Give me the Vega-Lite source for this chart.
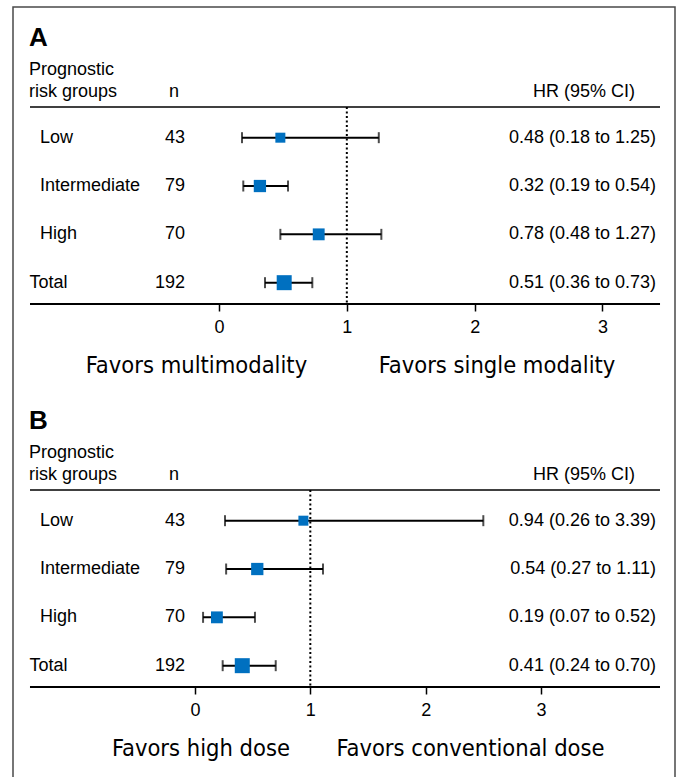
{
  "$schema": "https://vega.github.io/schema/vega-lite/v6.json",
  "padding": {"left": 12, "top": 6, "right": 0, "bottom": 0},
  "config": {"view": {"stroke": null}, "font": "Liberation Sans", "text": {"font": "Liberation Sans", "fontSize": 18, "color": "black"}},
  "datasets": {
    "A": [
      {"group": "Low", "n": 43, "hr": 0.48, "lo": 0.18, "hi": 1.25, "label": "0.48 (0.18 to 1.25)"},
      {"group": "Intermediate", "n": 79, "hr": 0.32, "lo": 0.19, "hi": 0.54, "label": "0.32 (0.19 to 0.54)"},
      {"group": "High", "n": 70, "hr": 0.78, "lo": 0.48, "hi": 1.27, "label": "0.78 (0.48 to 1.27)"},
      {"group": "Total", "n": 192, "hr": 0.51, "lo": 0.36, "hi": 0.73, "label": "0.51 (0.36 to 0.73)"}
    ],
    "B": [
      {"group": "Low", "n": 43, "hr": 0.94, "lo": 0.26, "hi": 2.5, "label": "0.94 (0.26 to 3.39)"},
      {"group": "Intermediate", "n": 79, "hr": 0.54, "lo": 0.27, "hi": 1.11, "label": "0.54 (0.27 to 1.11)"},
      {"group": "High", "n": 70, "hr": 0.19, "lo": 0.07, "hi": 0.52, "label": "0.19 (0.07 to 0.52)"},
      {"group": "Total", "n": 192, "hr": 0.41, "lo": 0.24, "hi": 0.70, "label": "0.41 (0.24 to 0.70)"}
    ]
  },
  "resolve": {"scale": {"x": "independent", "y": "independent", "size": "independent"}},
  "spacing": 0,
  "bounds": "flush",
  "vconcat": [
    {
      "width": 662, "height": 100,
      "view": {"stroke": "#4a4a4a", "strokeWidth": 1.5, "strokeDash": [762, 662, 100]},
      "data": {"values": [{}]},
      "layer": [
        {"mark": {"type": "rule", "strokeWidth": 1.5, "color": "black"},
         "encoding": {"x": {"datum": -1.4785, "type": "quantitative", "scale": {"domain": [-1.6115, 3.5672], "nice": false, "zero": false}, "axis": null}, "x2": {"datum": 3.45}, "y": {"value": "height"}}},
        {"mark": {"type": "text", "text": "A", "align": "left", "baseline": "alphabetic", "dy": -61, "fontSize": 26, "fontWeight": "bold"},
         "encoding": {"x": {"datum": -1.486, "type": "quantitative"}, "y": {"value": "height"}}},
        {"mark": {"type": "text", "text": ["Prognostic", "risk groups"], "align": "left", "baseline": "bottom", "dy": -28, "lineHeight": 22},
         "encoding": {"x": {"datum": -1.486, "type": "quantitative"}, "y": {"value": "height"}}},
        {"mark": {"type": "text", "text": "n", "align": "center", "baseline": "bottom", "dy": -6},
         "encoding": {"x": {"datum": -0.352, "type": "quantitative"}, "y": {"value": "height"}}},
        {"mark": {"type": "text", "text": "HR (95% CI)", "align": "right", "baseline": "bottom", "dy": -6},
         "encoding": {"x": {"datum": 3.254, "type": "quantitative"}, "y": {"value": "height"}}}
      ]
    },
    {
      "width": 662, "height": 197,
      "view": {"stroke": "#4a4a4a", "strokeWidth": 1.5, "strokeDash": [0, 662, 197, 662, 197]},
      "data": {"name": "A"},
      "layer": [
        {"data": {"values": [{}]},
         "mark": {"type": "rule", "strokeDash": [2, 2.5], "strokeWidth": 2, "color": "black"},
         "encoding": {"x": {"datum": 1, "type": "quantitative", "scale": {"domain": [-1.6115, 3.5672], "nice": false, "zero": false}, "axis": {"values": [0, 1, 2, 3], "domain": false, "grid": false, "ticks": true, "tickSize": 7, "tickWidth": 1.5, "tickColor": "black", "labelFont": "Liberation Sans", "labelFontSize": 18, "labelColor": "black", "labelPadding": 7, "labelFlush": false, "title": null, "format": "d"}}}},
        {"data": {"values": [{}]},
         "mark": {"type": "rule", "strokeWidth": 2, "color": "black"},
         "encoding": {"x": {"datum": -1.4785, "type": "quantitative"}, "x2": {"datum": 3.45}, "y": {"value": "height"}}},
        {"mark": {"type": "rule", "strokeWidth": 2, "color": "black"},
         "encoding": {"x": {"field": "lo", "type": "quantitative"}, "x2": {"field": "hi"},
           "y": {"field": "group", "type": "nominal", "sort": ["Low", "Intermediate", "High", "Total"], "scale": {"type": "point", "padding": 0.538, "align": 0.59}, "axis": null}}},
        {"mark": {"type": "tick", "thickness": 2, "size": 11, "color": "black"},
         "encoding": {"x": {"field": "lo", "type": "quantitative"}, "y": {"field": "group", "type": "nominal", "sort": ["Low", "Intermediate", "High", "Total"]}}},
        {"mark": {"type": "tick", "thickness": 2, "size": 11, "color": "black"},
         "encoding": {"x": {"field": "hi", "type": "quantitative"}, "y": {"field": "group", "type": "nominal", "sort": ["Low", "Intermediate", "High", "Total"]}}},
        {"mark": {"type": "square", "color": "#0070C0", "opacity": 1, "filled": true},
         "encoding": {"x": {"field": "hr", "type": "quantitative"}, "y": {"field": "group", "type": "nominal", "sort": ["Low", "Intermediate", "High", "Total"]},
           "size": {"field": "n", "type": "quantitative", "scale": {"type": "log", "domain": [43, 192], "range": [100, 225]}, "legend": null}}},
        {"transform": [{"filter": "datum.group != 'Total'"}],
         "mark": {"type": "text", "align": "left", "baseline": "middle"},
         "encoding": {"x": {"datum": -1.4, "type": "quantitative"}, "y": {"field": "group", "type": "nominal", "sort": ["Low", "Intermediate", "High", "Total"]}, "text": {"field": "group"}}},
        {"transform": [{"filter": "datum.group == 'Total'"}],
         "mark": {"type": "text", "align": "left", "baseline": "middle"},
         "encoding": {"x": {"datum": -1.482, "type": "quantitative"}, "y": {"field": "group", "type": "nominal", "sort": ["Low", "Intermediate", "High", "Total"]}, "text": {"field": "group"}}},
        {"mark": {"type": "text", "align": "right", "baseline": "middle"},
         "encoding": {"x": {"datum": -0.266, "type": "quantitative"}, "y": {"field": "group", "type": "nominal", "sort": ["Low", "Intermediate", "High", "Total"]}, "text": {"field": "n"}}},
        {"mark": {"type": "text", "align": "right", "baseline": "middle"},
         "encoding": {"x": {"datum": 3.419, "type": "quantitative"}, "y": {"field": "group", "type": "nominal", "sort": ["Low", "Intermediate", "High", "Total"]}, "text": {"field": "label"}}}
      ]
    },
    {
      "width": 662, "height": 86,
      "view": {"stroke": "#4a4a4a", "strokeWidth": 1.5, "strokeDash": [0, 662, 86, 662, 86]},
      "data": {"values": [{}]},
      "layer": [
        {"mark": {"type": "text", "text": "Favors multimodality", "align": "center", "baseline": "alphabetic", "dy": -17, "font": "DejaVu Sans Condensed, Liberation Sans", "fontSize": 23.5},
         "encoding": {"x": {"datum": -0.176, "type": "quantitative", "scale": {"domain": [-1.6115, 3.5672], "nice": false, "zero": false}, "axis": null}, "y": {"value": "height"}}},
        {"mark": {"type": "text", "text": "Favors single modality", "align": "center", "baseline": "alphabetic", "dy": -17, "font": "DejaVu Sans Condensed, Liberation Sans", "fontSize": 23.5},
         "encoding": {"x": {"datum": 2.175, "type": "quantitative"}, "y": {"value": "height"}}}
      ]
    },
    {
      "width": 662, "height": 100,
      "view": {"stroke": "#4a4a4a", "strokeWidth": 1.5, "strokeDash": [0, 662, 100, 662, 100]},
      "data": {"values": [{}]},
      "layer": [
        {"mark": {"type": "rule", "strokeWidth": 1.5, "color": "black"},
         "encoding": {"x": {"datum": -1.4307, "type": "quantitative", "scale": {"domain": [-1.578, 4.162], "nice": false, "zero": false}, "axis": null}, "x2": {"datum": 4.032}, "y": {"value": "height"}}},
        {"mark": {"type": "text", "text": "B", "align": "left", "baseline": "alphabetic", "dy": -61, "fontSize": 26, "fontWeight": "bold"},
         "encoding": {"x": {"datum": -1.439, "type": "quantitative"}, "y": {"value": "height"}}},
        {"mark": {"type": "text", "text": ["Prognostic", "risk groups"], "align": "left", "baseline": "bottom", "dy": -28, "lineHeight": 22},
         "encoding": {"x": {"datum": -1.439, "type": "quantitative"}, "y": {"value": "height"}}},
        {"mark": {"type": "text", "text": "n", "align": "center", "baseline": "bottom", "dy": -6},
         "encoding": {"x": {"datum": -0.182, "type": "quantitative"}, "y": {"value": "height"}}},
        {"mark": {"type": "text", "text": "HR (95% CI)", "align": "right", "baseline": "bottom", "dy": -6},
         "encoding": {"x": {"datum": 3.815, "type": "quantitative"}, "y": {"value": "height"}}}
      ]
    },
    {
      "width": 662, "height": 197,
      "view": {"stroke": "#4a4a4a", "strokeWidth": 1.5, "strokeDash": [0, 662, 197, 662, 197]},
      "data": {"name": "B"},
      "layer": [
        {"data": {"values": [{}]},
         "mark": {"type": "rule", "strokeDash": [2, 2.5], "strokeWidth": 2, "color": "black"},
         "encoding": {"x": {"datum": 1, "type": "quantitative", "scale": {"domain": [-1.578, 4.162], "nice": false, "zero": false}, "axis": {"values": [0, 1, 2, 3], "domain": false, "grid": false, "ticks": true, "tickSize": 7, "tickWidth": 1.5, "tickColor": "black", "labelFont": "Liberation Sans", "labelFontSize": 18, "labelColor": "black", "labelPadding": 7, "labelFlush": false, "title": null, "format": "d"}}}},
        {"data": {"values": [{}]},
         "mark": {"type": "rule", "strokeWidth": 2, "color": "black"},
         "encoding": {"x": {"datum": -1.4307, "type": "quantitative"}, "x2": {"datum": 4.032}, "y": {"value": "height"}}},
        {"mark": {"type": "rule", "strokeWidth": 2, "color": "black"},
         "encoding": {"x": {"field": "lo", "type": "quantitative"}, "x2": {"field": "hi"},
           "y": {"field": "group", "type": "nominal", "sort": ["Low", "Intermediate", "High", "Total"], "scale": {"type": "point", "padding": 0.538, "align": 0.59}, "axis": null}}},
        {"mark": {"type": "tick", "thickness": 2, "size": 11, "color": "black"},
         "encoding": {"x": {"field": "lo", "type": "quantitative"}, "y": {"field": "group", "type": "nominal", "sort": ["Low", "Intermediate", "High", "Total"]}}},
        {"mark": {"type": "tick", "thickness": 2, "size": 11, "color": "black"},
         "encoding": {"x": {"field": "hi", "type": "quantitative"}, "y": {"field": "group", "type": "nominal", "sort": ["Low", "Intermediate", "High", "Total"]}}},
        {"mark": {"type": "square", "color": "#0070C0", "opacity": 1, "filled": true},
         "encoding": {"x": {"field": "hr", "type": "quantitative"}, "y": {"field": "group", "type": "nominal", "sort": ["Low", "Intermediate", "High", "Total"]},
           "size": {"field": "n", "type": "quantitative", "scale": {"type": "log", "domain": [43, 192], "range": [100, 225]}, "legend": null}}},
        {"transform": [{"filter": "datum.group != 'Total'"}],
         "mark": {"type": "text", "align": "left", "baseline": "middle"},
         "encoding": {"x": {"datum": -1.344, "type": "quantitative"}, "y": {"field": "group", "type": "nominal", "sort": ["Low", "Intermediate", "High", "Total"]}, "text": {"field": "group"}}},
        {"transform": [{"filter": "datum.group == 'Total'"}],
         "mark": {"type": "text", "align": "left", "baseline": "middle"},
         "encoding": {"x": {"datum": -1.435, "type": "quantitative"}, "y": {"field": "group", "type": "nominal", "sort": ["Low", "Intermediate", "High", "Total"]}, "text": {"field": "group"}}},
        {"mark": {"type": "text", "align": "right", "baseline": "middle"},
         "encoding": {"x": {"datum": -0.0867, "type": "quantitative"}, "y": {"field": "group", "type": "nominal", "sort": ["Low", "Intermediate", "High", "Total"]}, "text": {"field": "n"}}},
        {"mark": {"type": "text", "align": "right", "baseline": "middle"},
         "encoding": {"x": {"datum": 3.997, "type": "quantitative"}, "y": {"field": "group", "type": "nominal", "sort": ["Low", "Intermediate", "High", "Total"]}, "text": {"field": "label"}}}
      ]
    },
    {
      "width": 662, "height": 90,
      "view": {"stroke": "#4a4a4a", "strokeWidth": 1.5, "strokeDash": [0, 662, 90, 662, 90]},
      "data": {"values": [{}]},
      "layer": [
        {"mark": {"type": "text", "text": "Favors high dose", "align": "center", "baseline": "alphabetic", "dy": -21, "font": "DejaVu Sans Condensed, Liberation Sans", "fontSize": 23.5},
         "encoding": {"x": {"datum": 0.052, "type": "quantitative", "scale": {"domain": [-1.578, 4.162], "nice": false, "zero": false}, "axis": null}, "y": {"value": "height"}}},
        {"mark": {"type": "text", "text": "Favors conventional dose", "align": "center", "baseline": "alphabetic", "dy": -21, "font": "DejaVu Sans Condensed, Liberation Sans", "fontSize": 23.5},
         "encoding": {"x": {"datum": 2.389, "type": "quantitative"}, "y": {"value": "height"}}}
      ]
    }
  ]
}
